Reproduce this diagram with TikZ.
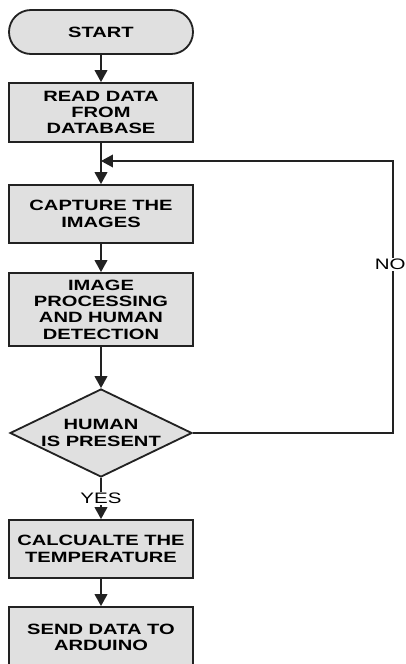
\documentclass[tikz,border=0pt]{standalone}
\usepackage{fontspec}
\usepackage{tikz}
\usetikzlibrary{arrows.meta,shapes.geometric,shapes.misc}
\newfontfamily\chartfont[FakeStretch=1.35]{Liberation Sans}
\definecolor{boxfill}{HTML}{E0E0E0}
\definecolor{boxline}{HTML}{222222}
\tikzset{
  procbox/.style={draw=boxline, fill=boxfill, line width=1.3pt, minimum width=4.6cm,
    inner sep=0pt, align=center, font=\chartfont\bfseries\fontsize{10.6}{11.6}\selectfont},
  termbox/.style={procbox, rounded rectangle, minimum height=1.1cm},
  decbox/.style={procbox, diamond, aspect=2.07, minimum width=4.55cm, minimum height=2.2cm},
  flow/.style={draw=boxline, line width=1.2pt, -{Triangle[length=8.5pt, width=9pt]}},
  back/.style={draw=boxline, line width=1pt, -{Triangle[length=8.5pt, width=9pt]}},
  lbl/.style={font=\chartfont\fontsize{10.8}{12}\selectfont, fill=white, inner sep=1pt},
}

\begin{document}
\begin{tikzpicture}

  \useasboundingbox (0,0) rectangle (10.125,-16.6);

  \node[termbox] (start) at (2.525,-0.8) {START};
  \node[procbox, minimum height=1.475cm] (read) at (2.525,-2.8125) {READ DATA\\FROM\\DATABASE};
  \coordinate (join) at (2.525,-4.025);
  \node[procbox, minimum height=1.45cm] (capture) at (2.525,-5.35) {CAPTURE THE\\IMAGES};
  \node[procbox, minimum height=1.825cm] (detect) at (2.525,-7.7375) {IMAGE\\PROCESSING\\AND HUMAN\\DETECTION};
  \node[decbox] (human) at (2.525,-10.825) {HUMAN\\IS PRESENT};
  \node[procbox, minimum height=1.45cm] (temp) at (2.525,-13.725) {CALCUALTE THE\\TEMPERATURE};
  \node[procbox, minimum height=1.525cm] (send) at (2.525,-15.9375) {SEND DATA TO\\ARDUINO};
  \coordinate (loop) at (9.825,-4.025);

  \draw[flow] (start) -- (read);
  \draw[flow] (read) -- (capture);
  \draw[flow] (capture) -- (detect);
  \draw[flow] (detect) -- (human);
  \draw[flow] (human) -- node[lbl] {YES} (temp);
  \draw[flow] (temp) -- (send);

  % no human: back to capturing
  \draw[back] (human.east) -| node[lbl, pos=0.81, xshift=-2pt] {NO} (loop) -- (join);

\end{tikzpicture}
\end{document}
